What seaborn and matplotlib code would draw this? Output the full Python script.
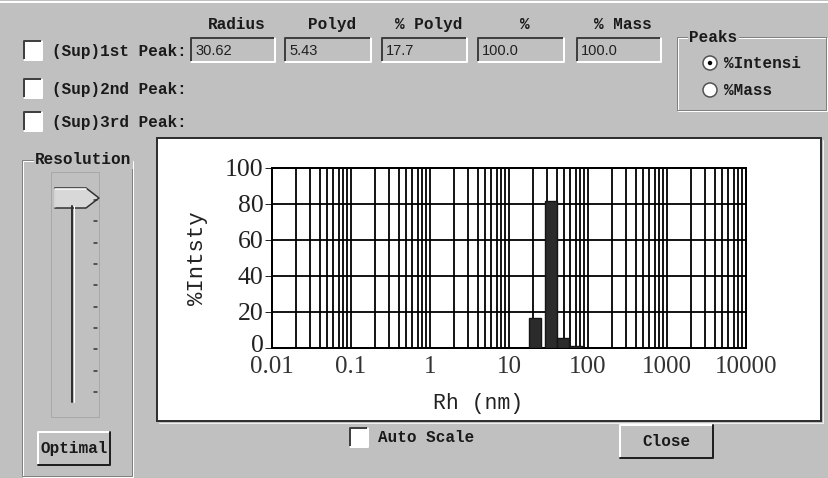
import numpy as np
import pandas as pd
import matplotlib
matplotlib.use("Agg")
import matplotlib.pyplot as plt
from matplotlib.patches import Rectangle, Circle, Polygon
from matplotlib.ticker import LogLocator, NullFormatter
from matplotlib.transforms import ScaledTranslation
import seaborn as sns

### data
# histogram bins (Rh, nm) and % intensity per bin
rh_edges = [18.1, 25.2, 28.6, 40.2, 58.0, 84.0]
intensity = [16.7, 0.0, 81.8, 5.7, 1.0]

# peak table
peak_headers = ["Radius", "Polyd", "% Polyd", "%", "% Mass"]
peak1_values = ["30.62", "5.43", "17.7", "100.0", "100.0"]
peak_rows = ["(Sup)1st Peak:", "(Sup)2nd Peak:", "(Sup)3rd Peak:"]
peak_modes = ["%Intensi", "%Mass"]

x_ticks = [0.01, 0.1, 1, 10, 100, 1000, 10000]
x_ticklabels = ["0.01", "0.1", "1", "10", "100", "1000", "10000"]
y_ticks = [0, 20, 40, 60, 80, 100]

### style
sns.set_style("white")
plt.rcParams["font.family"] = ["Liberation Mono", "DejaVu Sans Mono"]

W, H = 829, 478
BG = "#c0c0c0"
PX = 0.72   # one pixel in points at dpi 100
UI_FONT = dict(fontsize=11.5, fontweight="bold", color="#1a1a1a")

fig = plt.figure(figsize=(W / 100, H / 100), dpi=100, facecolor=BG)
ui = fig.add_axes([0, 0, 1, 1])
ui.set_xlim(0, W)
ui.set_ylim(H, 0)
ui.axis("off")


def sunken(x, y, w, h, face):
    ui.add_patch(Rectangle((x, y), w, h, facecolor=face, edgecolor="none"))
    ui.plot([x, x, x + w], [y + h, y, y], color="#404040", lw=2 * PX)
    ui.plot([x, x + w, x + w], [y + h, y + h, y], color="white", lw=2 * PX)


def raised(x, y, w, h, label):
    ui.add_patch(Rectangle((x, y), w, h, facecolor=BG, edgecolor="none"))
    ui.plot([x, x, x + w], [y + h, y, y], color="white", lw=2 * PX)
    ui.plot([x, x + w, x + w], [y + h, y + h, y], color="#202020", lw=2 * PX)
    ui.text(x + w / 2, y + h / 2, label, ha="center", va="center", **UI_FONT)


def group(x, y, w, h, label, lx):
    ui.add_patch(Rectangle((x + 1, y + 1), w, h, fill=False, edgecolor="white", lw=PX))
    ui.add_patch(Rectangle((x, y), w, h, fill=False, edgecolor="#808080", lw=PX))
    ui.text(lx, y, label, ha="left", va="center",
            bbox=dict(facecolor=BG, edgecolor="none", pad=1), **UI_FONT)


# window top edge
ui.plot([0, W], [2, 2], color="white", lw=2 * PX)

### peak table
box_x = [191, 285, 382, 478, 577]
box_w = [84, 86, 85, 86, 84]
for i, head in enumerate(peak_headers):
    ui.text(box_x[i] + box_w[i] / 2 + 4, 24, head, ha="center", va="center", **UI_FONT)
    sunken(box_x[i], 38, box_w[i], 24, BG)
    ui.text(box_x[i] + 4, 51, peak1_values[i], ha="left", va="center",
            fontsize=10.5, family="Liberation Sans", color="#202020")

row_y = [51, 89, 122]
for i, row in enumerate(peak_rows):
    sunken(24, row_y[i] - 10, 18, 19, "white")
    ui.text(52, row_y[i], row, ha="left", va="center", **UI_FONT)

# Peaks radio group
group(677, 37, 149, 73, "Peaks", 689)
for i, mode in enumerate(peak_modes):
    cy = 63 + 27 * i
    ui.add_patch(Circle((710, cy), 7, facecolor="white", edgecolor="#505050", lw=1.5 * PX))
    if i == 0:
        ui.add_patch(Circle((710, cy), 2.2, facecolor="black", edgecolor="none"))
    ui.text(724, cy, mode, ha="left", va="center", **UI_FONT)

### Resolution slider
group(22, 160, 110, 316, "Resolution", 35)
ui.add_patch(Rectangle((51, 172), 48, 245, fill=False, edgecolor="#a8a8a8", lw=PX))
ui.plot([72, 72], [206, 402], color="#303030", lw=2 * PX)
ui.plot([74.5, 74.5], [206, 402], color="white", lw=PX)
for ty in np.linspace(200, 392, 10):
    ui.plot([94, 97], [ty, ty], color="#303030", lw=1.5 * PX)
thumb = [(55, 188), (86, 188), (99, 198), (86, 208), (55, 208)]
ui.add_patch(Polygon(thumb, closed=True, facecolor="#d8d8d8", edgecolor="#303030", lw=1.5 * PX))
ui.plot([55, 55, 86], [207, 189, 189], color="white", lw=1.5 * PX)
raised(38, 432, 72, 33, "Optimal")

### chart panel
ui.add_patch(Rectangle((157, 138), 664, 283, facecolor="white", edgecolor="#303030", lw=2 * PX))
ui.plot([159, 823, 823], [423, 423, 140], color="#f0f0f0", lw=PX)

sunken(350, 428, 18, 19, "white")
ui.text(378, 437, "Auto Scale", ha="left", va="center", **UI_FONT)
raised(620, 425, 93, 33, "Close")

### distribution plot
ax = fig.add_axes([272 / W, 1 - 348 / H, 474 / W, 180 / H])
ax.set_facecolor("white")
dist = pd.DataFrame({
    "rh": np.sqrt(np.array(rh_edges[:-1]) * np.array(rh_edges[1:])),
    "intensity": intensity,
})
log_edges = [float(v) for v in np.log10(rh_edges)]
sns.histplot(data=dist, x="rh", weights="intensity", bins=log_edges, log_scale=True,
             color="#2b2b2b", edgecolor="#151515", linewidth=1, alpha=1, ax=ax, zorder=3)

ax.set_xlim(0.01, 10000)
ax.set_ylim(0, 100)
ax.set_xticks(x_ticks, x_ticklabels)
ax.xaxis.set_minor_locator(LogLocator(base=10, subs=range(2, 10), numticks=50))
ax.xaxis.set_minor_formatter(NullFormatter())
ax.set_yticks(y_ticks)
ax.grid(which="both", axis="x", color="black", lw=1.8 * PX)
ax.grid(which="major", axis="y", color="black", lw=1.8 * PX)
ax.set_axisbelow(True)
for sp in ax.spines.values():
    sp.set_visible(True)
    sp.set_color("black")
    sp.set_linewidth(2 * PX)

ax.tick_params(axis="x", which="both", length=0, pad=6, labelsize=18, labelcolor="#333333")
ax.tick_params(axis="y", length=5, width=PX, pad=1, labelsize=18.5, labelcolor="#222222", left=True)
for lab in ax.get_xticklabels() + ax.get_yticklabels():
    lab.set_family("Liberation Serif")
# the "0" label sits a little above the axis line, clear of "0.01"
zero_lab = ax.get_yticklabels()[0]
zero_lab.set_transform(zero_lab.get_transform() + ScaledTranslation(0, 5 / 100, fig.dpi_scale_trans))

ax.set_xlabel("Rh (nm)", fontsize=15.5, color="#222222")
ax.set_ylabel("%Intsty", fontsize=16, color="#222222")
ax.xaxis.set_label_coords(0.435, -0.25)
ax.yaxis.set_label_coords(-0.135, 0.5)

fig.savefig("out.png", dpi=100, facecolor=BG)
